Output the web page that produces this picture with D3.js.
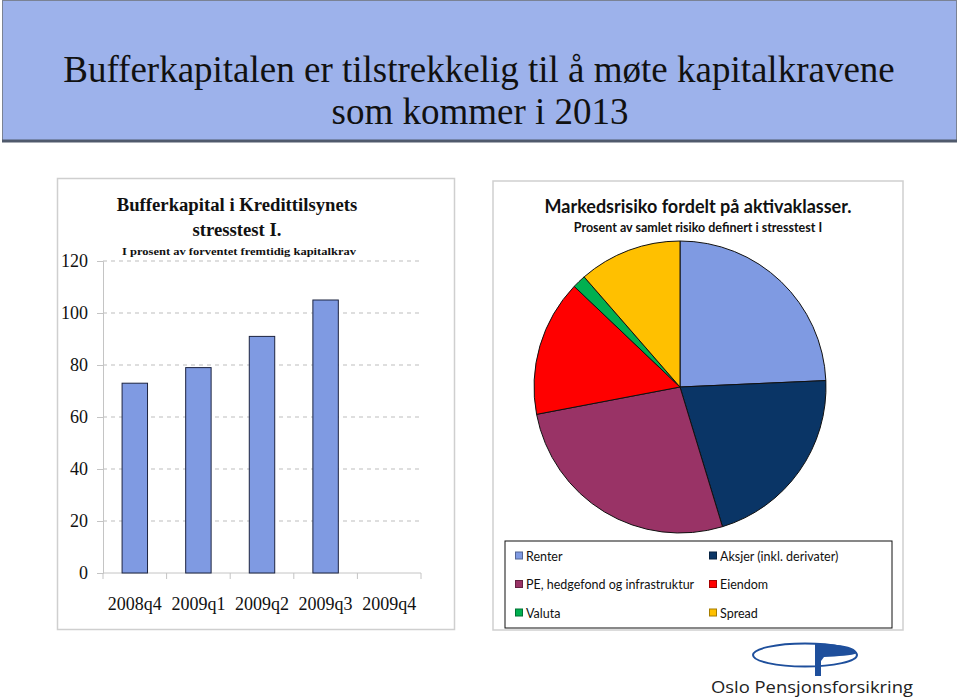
<!DOCTYPE html>
<html>
<head>
<meta charset="utf-8">
<script src="https://cdn.jsdelivr.net/npm/d3@7/dist/d3.min.js"></script>
<style>
  body { margin: 0; background: #fff; }
  svg { display: block; }
</style>
</head>
<body>
<div id="chart"></div>
<script>
'use strict';

// bar chart data
var quarters = ['2008q4', '2009q1', '2009q2', '2009q3', '2009q4'];
var bufferValues = [73, 79, 91, 105, null];
var yTicks = [0, 20, 40, 60, 80, 100, 120];

// pie chart data
var assetClasses = ['Renter', 'Aksjer (inkl. derivater)', 'PE, hedgefond og infrastruktur',
  'Eiendom', 'Valuta', 'Spread'];
var riskShares = [24.3, 21.0, 26.7, 15.1, 1.5, 11.4];
var assetColors = ['#7F9AE2', '#0A3566', '#993366', '#FF0000', '#00B050', '#FFC000'];

var chart = {
  initialize: function() {
    var w, h, svg;

    w = 960;
    h = 698;

    svg = d3.select('#chart')
      .append('svg')
      .attr('width', w)
      .attr('height', h);

    svg.append('rect')
      .attr('width', w)
      .attr('height', h)
      .attr('fill', '#fff');

    this.drawHeader(svg);
    this.drawBars(svg);
    this.drawPie(svg);
    this.drawLogo(svg);
  },
  drawHeader: function(svg) {
    var serif = '"Liberation Serif", "Times New Roman", serif';

    svg.append('rect')
      .attr('x', 2.5)
      .attr('y', 0.5)
      .attr('width', 954)
      .attr('height', 140)
      .attr('fill', '#9DB2EB')
      .attr('stroke', '#7a8294')
      .attr('stroke-width', 1);
    svg.append('line')
      .attr('x1', 2)
      .attr('x2', 957)
      .attr('y1', 141)
      .attr('y2', 141)
      .attr('stroke', '#505a6c')
      .attr('stroke-width', 3);

    svg.append('text')
      .attr('x', 479)
      .attr('y', 82)
      .attr('text-anchor', 'middle')
      .attr('font-family', serif)
      .attr('font-size', 37)
      .attr('fill', '#111')
      .text('Bufferkapitalen er tilstrekkelig til å møte kapitalkravene');
    svg.append('text')
      .attr('x', 480)
      .attr('y', 124)
      .attr('text-anchor', 'middle')
      .attr('font-family', serif)
      .attr('font-size', 37)
      .attr('fill', '#111')
      .text('som kommer i 2013');
  },
  drawBars: function(svg) {
    var serif, g, x, y, yAxis, ticksX, left, right, top, bottom;

    serif = '"Liberation Serif", "Times New Roman", serif';
    left = 103;
    right = 421;
    top = 261;
    bottom = 573;

    // panel
    svg.append('rect')
      .attr('x', 57.5)
      .attr('y', 178.5)
      .attr('width', 397)
      .attr('height', 451)
      .attr('fill', '#fff')
      .attr('stroke', '#cfcfcf')
      .attr('stroke-width', 1.5);

    x = d3.scaleBand()
      .domain(quarters)
      .range([left, right])
      .paddingInner(0.6)
      .paddingOuter(0.3);

    y = d3.scaleLinear()
      .domain([0, 120])
      .range([bottom, top]);

    g = svg.append('g');

    // dashed gridlines
    g.selectAll('line.grid')
      .data(yTicks.filter(function(d) { return d > 0; }))
      .enter()
      .append('line')
      .attr('class', 'grid')
      .attr('x1', left)
      .attr('x2', right)
      .attr('y1', function(d) { return y(d); })
      .attr('y2', function(d) { return y(d); })
      .attr('stroke', '#bdbdbd')
      .attr('stroke-width', 1)
      .attr('stroke-dasharray', '4,4');

    // y axis
    yAxis = g.append('g')
      .attr('transform', 'translate(' + left + ',0)')
      .call(d3.axisLeft(y).tickValues(yTicks).tickSize(6).tickPadding(9));
    yAxis.select('.domain').attr('stroke', '#c4c4c4');
    yAxis.selectAll('.tick line').attr('stroke', '#c4c4c4');
    yAxis.selectAll('.tick text')
      .attr('font-family', serif)
      .attr('font-size', 18)
      .attr('fill', '#111');

    // x axis line and ticks at category edges
    g.append('line')
      .attr('x1', left)
      .attr('x2', right)
      .attr('y1', bottom)
      .attr('y2', bottom)
      .attr('stroke', '#c4c4c4');

    ticksX = quarters.map(function(q) { return x(q) - x.step() * x.paddingInner() / 2; });
    ticksX[0] = left;
    ticksX.push(right);
    g.selectAll('line.xtick')
      .data(ticksX)
      .enter()
      .append('line')
      .attr('class', 'xtick')
      .attr('x1', function(d) { return d; })
      .attr('x2', function(d) { return d; })
      .attr('y1', bottom)
      .attr('y2', bottom + 6)
      .attr('stroke', '#c4c4c4');

    g.selectAll('text.xlabel')
      .data(quarters)
      .enter()
      .append('text')
      .attr('class', 'xlabel')
      .attr('x', function(d) { return x(d) + x.bandwidth() / 2; })
      .attr('y', 610)
      .attr('text-anchor', 'middle')
      .attr('font-family', serif)
      .attr('font-size', 18)
      .attr('fill', '#111')
      .text(function(d) { return d; });

    // bars
    g.selectAll('rect.bar')
      .data(quarters.filter(function(q, i) { return bufferValues[i] !== null; }))
      .enter()
      .append('rect')
      .attr('class', 'bar')
      .attr('x', function(d) { return x(d); })
      .attr('width', x.bandwidth())
      .attr('y', function(d) { return y(bufferValues[quarters.indexOf(d)]); })
      .attr('height', function(d) { return bottom - y(bufferValues[quarters.indexOf(d)]); })
      .attr('fill', '#7F9AE2')
      .attr('stroke', '#1d2440')
      .attr('stroke-width', 1);

    // titles
    g.append('text')
      .attr('x', 237)
      .attr('y', 211)
      .attr('text-anchor', 'middle')
      .attr('font-family', serif)
      .attr('font-weight', 'bold')
      .attr('font-size', 18.7)
      .attr('fill', '#111')
      .text('Bufferkapital i Kredittilsynets');
    g.append('text')
      .attr('x', 237)
      .attr('y', 236)
      .attr('text-anchor', 'middle')
      .attr('font-family', serif)
      .attr('font-weight', 'bold')
      .attr('font-size', 18.7)
      .attr('fill', '#111')
      .text('stresstest I.');
    g.append('text')
      .attr('x', 122)
      .attr('y', 255)
      .attr('font-family', serif)
      .attr('font-weight', 'bold')
      .attr('font-size', 11)
      .attr('textLength', 234)
      .attr('lengthAdjust', 'spacingAndGlyphs')
      .attr('fill', '#111')
      .text('I prosent av forventet fremtidig kapitalkrav');
  },
  drawPie: function(svg) {
    var sans, g, pie, arc, arcs, legend, items;

    sans = 'Lato, "Open Sans", sans-serif';

    // panel
    svg.append('rect')
      .attr('x', 493)
      .attr('y', 181)
      .attr('width', 410)
      .attr('height', 449)
      .attr('fill', '#fff')
      .attr('stroke', '#cfcfcf')
      .attr('stroke-width', 1.5);

    svg.append('text')
      .attr('x', 698)
      .attr('y', 213)
      .attr('text-anchor', 'middle')
      .attr('font-family', sans)
      .attr('font-weight', 'bold')
      .attr('font-size', 18)
      .attr('fill', '#111')
      .text('Markedsrisiko fordelt på aktivaklasser.');
    svg.append('text')
      .attr('x', 698)
      .attr('y', 232)
      .attr('text-anchor', 'middle')
      .attr('font-family', sans)
      .attr('font-weight', 'bold')
      .attr('font-size', 12.5)
      .attr('fill', '#111')
      .text('Prosent av samlet risiko definert i stresstest I');

    pie = d3.pie()
      .sort(null)
      .value(function(d) { return riskShares[d]; });

    arc = d3.arc()
      .innerRadius(0)
      .outerRadius(146);

    g = svg.append('g')
      .attr('transform', 'translate(680,387)');

    arcs = pie(d3.range(assetClasses.length));
    g.selectAll('path')
      .data(arcs)
      .enter()
      .append('path')
      .attr('d', arc)
      .attr('fill', function(d) { return assetColors[d.data]; })
      .attr('stroke', '#111')
      .attr('stroke-width', 1);

    // legend box
    svg.append('rect')
      .attr('x', 505)
      .attr('y', 541)
      .attr('width', 387)
      .attr('height', 87)
      .attr('fill', '#fff')
      .attr('stroke', '#111')
      .attr('stroke-width', 1);

    legend = svg.append('g');
    items = legend.selectAll('g')
      .data(d3.range(assetClasses.length))
      .enter()
      .append('g')
      .attr('transform', function(i) {
        return 'translate(' + (i % 2 === 0 ? 515 : 709) + ',' + (556 + Math.floor(i / 2) * 28.5) + ')';
      });
    items.append('rect')
      .attr('x', 0.5)
      .attr('y', -4)
      .attr('width', 7)
      .attr('height', 7)
      .attr('fill', function(i) { return assetColors[i]; })
      .attr('stroke', function(i) { return d3.color(assetColors[i]).darker(1.2); })
      .attr('stroke-width', 1);
    items.append('text')
      .attr('x', 11)
      .attr('y', 4.5)
      .attr('font-family', sans)
      .attr('font-size', 12.5)
      .attr('fill', '#111')
      .text(function(i) { return assetClasses[i]; });
  },
  drawLogo: function(svg) {
    var blue, g;

    blue = '#1E4F9C';
    g = svg.append('g');

    // logo mark
    g.append('ellipse')
      .attr('cx', 805)
      .attr('cy', 655)
      .attr('rx', 52)
      .attr('ry', 11.5)
      .attr('fill', 'none')
      .attr('stroke', blue)
      .attr('stroke-width', 2);
    g.append('path')
      .attr('d', 'M815,644 L821,644 C840,644 856,647 857,653 C852,656 838,656 824,657 L821,661 L821,676 L815,676 Z')
      .attr('fill', blue);

    g.append('text')
      .attr('x', 711)
      .attr('y', 693)
      .attr('font-family', '"Open Sans", "DejaVu Sans", sans-serif')
      .attr('font-size', 17)
      .attr('fill', '#222')
      .attr('textLength', 202)
      .attr('lengthAdjust', 'spacingAndGlyphs')
      .text('Oslo Pensjonsforsikring');
  }
};

chart.initialize();
</script>
</body>
</html>
